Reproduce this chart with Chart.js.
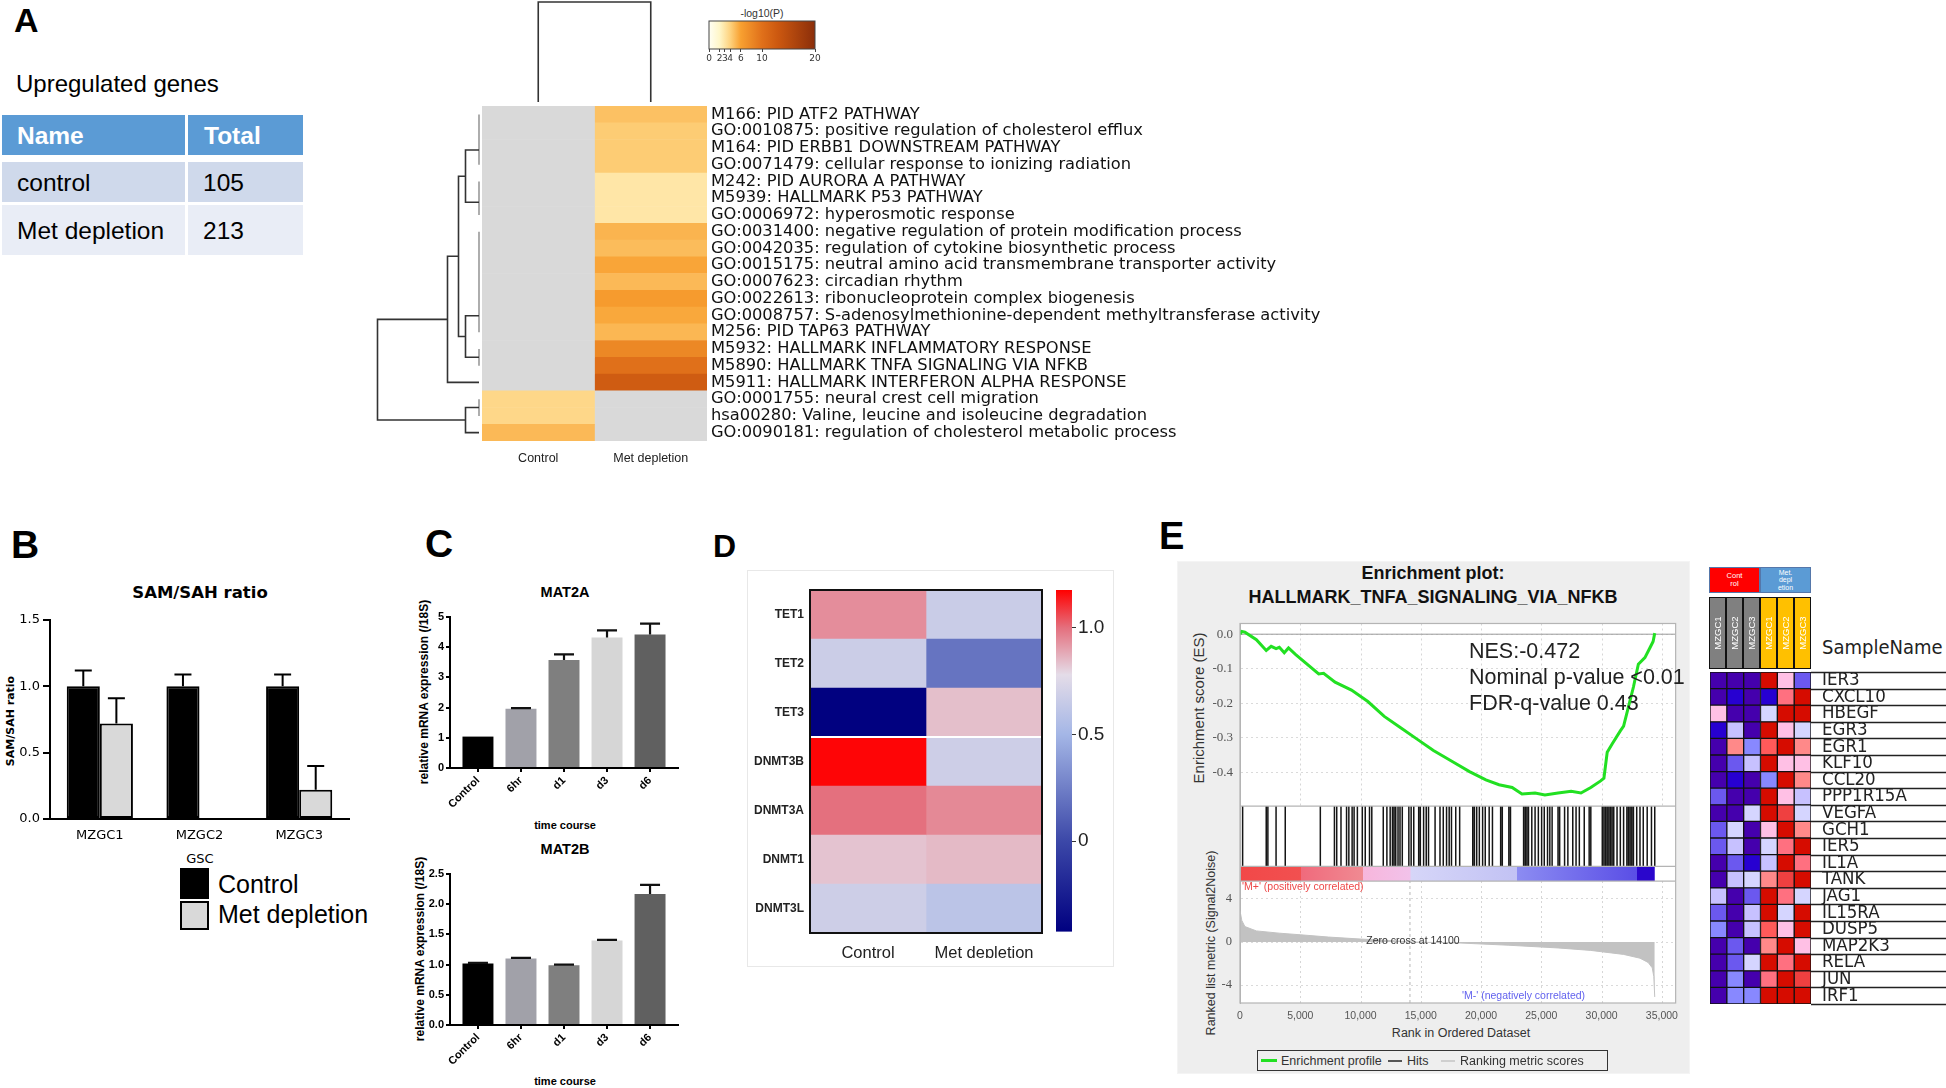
<!DOCTYPE html>
<html>
<head>
<meta charset="utf-8">
<title>Methionine depletion figure</title>
<script src="https://cdn.jsdelivr.net/npm/chart.js@4.4.1/dist/chart.umd.min.js"></script>
<style>
  html, body { margin: 0; padding: 0; }
  body { width: 1946px; height: 1088px; position: relative; overflow: hidden; background: #fff;
         font-family: "Liberation Sans", Arial, sans-serif; color: #000; }
  canvas { position: absolute; }
  .t { position: absolute; white-space: nowrap; line-height: 1; }
  .box { position: absolute; box-sizing: border-box; }
</style>
</head>
<body>
<script>
/* ====== DATA ====== */

// A: upregulated genes table
const tableCols = ['Name', 'Total']
const tableNames = ['control', 'Met depletion']
const tableTotals = [105, 213]

// A: enrichment heatmap, -log10(P) (null = not enriched)
const enrichTerms = [
  'M166: PID ATF2 PATHWAY',
  'GO:0010875: positive regulation of cholesterol efflux',
  'M164: PID ERBB1 DOWNSTREAM PATHWAY',
  'GO:0071479: cellular response to ionizing radiation',
  'M242: PID AURORA A PATHWAY',
  'M5939: HALLMARK P53 PATHWAY',
  'GO:0006972: hyperosmotic response',
  'GO:0031400: negative regulation of protein modification process',
  'GO:0042035: regulation of cytokine biosynthetic process',
  'GO:0015175: neutral amino acid transmembrane transporter activity',
  'GO:0007623: circadian rhythm',
  'GO:0022613: ribonucleoprotein complex biogenesis',
  'GO:0008757: S-adenosylmethionine-dependent methyltransferase activity',
  'M256: PID TAP63 PATHWAY',
  'M5932: HALLMARK INFLAMMATORY RESPONSE',
  'M5890: HALLMARK TNFA SIGNALING VIA NFKB',
  'M5911: HALLMARK INTERFERON ALPHA RESPONSE',
  'GO:0001755: neural crest cell migration',
  'hsa00280: Valine, leucine and isoleucine degradation',
  'GO:0090181: regulation of cholesterol metabolic process'
]
const enrichGroups = ['Control', 'Met depletion']
const ctrlLogP = [null, null, null, null, null, null, null, null, null, null, null, null, null, null, null, null, null, 3.7, 3.7, 5.0]
const metLogP = [4.7, 4.25, 4.25, 4.25, 2.9, 2.9, 2.9, 5.2, 4.9, 5.8, 5.0, 6.4, 5.7, 5.1, 8.0, 10.0, 12.5, null, null, null]
const logPTicks = [0, 2, 3, 4, 6, 10, 20]

// A: row dendrogram. tied rows join at height 0, links are [rowA, heightA, rowB, heightB, height]
const rowTies = [[0, 3], [4, 6], [7, 13], [14, 15], [17, 18]]
const rowLinks = [
  [2.125, 0, 5.25, 0, 1.35],
  [12.02, 0, 14.5, 0, 1.35],
  [3.69, 1.35, 13.26, 1.35, 2.05],
  [8.47, 2.05, 16, 0, 3.15],
  [17.5, 0, 19, 0, 1.35],
  [12.24, 3.15, 18.25, 1.35, 10.15]
]
const colLinks = [[0, 0, 1, 0, 10]]

// B: SAM/SAH ratio
const samCells = ['MZGC1', 'MZGC2', 'MZGC3']
const samCtrl = [1.0, 1.0, 1.0]
const samCtrlErr = [0.12, 0.09, 0.09]
const samMet = [0.72, null, 0.22]
const samMetErr = [0.19, 0, 0.18]
const samSeries = ['Control', 'Met depletion']

// C: qPCR time course
const timePoints = ['Control', '6hr', 'd1', 'd3', 'd6']
const mat2a = [1.04, 1.96, 3.58, 4.32, 4.42]
const mat2aErr = [0, 0.02, 0.18, 0.24, 0.36]
const mat2b = [1.02, 1.10, 0.99, 1.40, 2.17]
const mat2bErr = [0.01, 0.01, 0.01, 0.01, 0.15]

// D: methylation enzymes heatmap
const methGenes = ['TET1', 'TET2', 'TET3', 'DNMT3B', 'DNMT3A', 'DNMT1', 'DNMT3L']
const methGroups = ['Control', 'Met depletion']
const methCtrl = [0.94, 0.67, -0.42, 1.17, 1.0, 0.83, 0.68]
const methMet = [0.66, 0.2, 0.84, 0.68, 0.95, 0.85, 0.6]
const methTicks = [0, 0.5, 1]

// E: GSEA running enrichment score
const esRank = [0, 136, 408, 1360, 2176, 2584, 2992, 3264, 3672, 4025, 4624, 6528, 6936, 7888, 9248, 10608, 11968, 13328, 14688, 16048, 17680, 19040, 20400, 21488, 22576, 23392, 24480, 25296, 26384, 27472, 28288, 29104, 29920, 30192, 30464, 30872, 31552, 31824, 32232, 32640, 33048, 33592, 34000, 34272, 34408]
const esScore = [0, 0.008, 0.006, -0.016, -0.047, -0.035, -0.042, -0.038, -0.054, -0.040, -0.059, -0.115, -0.113, -0.139, -0.162, -0.195, -0.238, -0.271, -0.304, -0.337, -0.370, -0.398, -0.422, -0.436, -0.444, -0.463, -0.460, -0.466, -0.460, -0.455, -0.460, -0.444, -0.425, -0.417, -0.342, -0.318, -0.280, -0.266, -0.210, -0.153, -0.087, -0.068, -0.040, -0.021, 0.003]
const hitRanks = [218, 2176, 2312, 2992, 3754, 6664, 7834, 8024, 8378, 8840, 9030, 9302, 9466, 9738, 10146, 10390, 10744, 10934, 11886, 12186, 12458, 12648, 12784, 12920, 13110, 13274, 13464, 14008, 14198, 14416, 14824, 14960, 15232, 15450, 15640, 16184, 16592, 16864, 17136, 17354, 17544, 17898, 18224, 19312, 19448, 19638, 19856, 20128, 20346, 20672, 20944, 21624, 21760, 22304, 22440, 23528, 23664, 23800, 23936, 24208, 24480, 24752, 25024, 25242, 25514, 25704, 25894, 26384, 26520, 26928, 27200, 27608, 27880, 28152, 28560, 28968, 29104, 30056, 30192, 30328, 30464, 30600, 30736, 30872, 31008, 31280, 31552, 31824, 32096, 32232, 32368, 32504, 32640, 32912, 33184, 33456, 33782, 34136, 34408]
const metricRank = [0, 150, 408, 1360, 3264, 5032, 7344, 10064, 12784, 14100, 18224, 22304, 26384, 29104, 31824, 33184, 33864, 34200, 34330, 34408]
const metricValue = [2.9, 2.0, 1.43, 1.03, 0.82, 0.67, 0.46, 0.27, 0.12, 0, -0.09, -0.3, -0.55, -0.78, -1.15, -1.5, -1.9, -2.4, -3.2, -5.1]
const zeroCross = 14100
const rankTicks = [0, 5000, 10000, 15000, 20000, 25000, 30000, 35000]
const esTicks = [0, -0.1, -0.2, -0.3, -0.4]
const metricTicks = [4, 2, 0, -2, -4]
const gseaStats = ['NES:-0.472', 'Nominal p-value <0.01', 'FDR-q-value 0.43']

// E: leading edge heatmap (GSEA colour level 0..11 per sample)
const tnfGenes = ['IER3', 'CXCL10', 'HBEGF', 'EGR3', 'EGR1', 'KLF10', 'CCL20', 'PPP1R15A', 'VEGFA', 'GCH1', 'IER5', 'IL1A', 'TANK', 'JAG1', 'IL15RA', 'DUSP5', 'MAP2K3', 'RELA', 'JUN', 'IRF1']
const tnfSamples = ['MZGC1', 'MZGC2', 'MZGC3', 'MZGC1', 'MZGC2', 'MZGC3']
const ctrl1Lv = [0, 0, 6, 1, 0, 0, 0, 2, 0, 2, 2, 0, 0, 4, 2, 3, 0, 0, 0, 0]
const ctrl2Lv = [0, 1, 0, 4, 7, 2, 1, 0, 0, 5, 4, 2, 4, 0, 0, 0, 2, 2, 3, 3]
const ctrl3Lv = [0, 0, 0, 0, 3, 4, 0, 0, 5, 0, 0, 1, 5, 2, 4, 4, 0, 5, 0, 3]
const met1Lv = [11, 1, 5, 11, 9, 11, 3, 11, 11, 6, 5, 4, 7, 11, 11, 9, 7, 11, 8, 11]
const met2Lv = [6, 8, 11, 6, 11, 6, 11, 6, 10, 11, 8, 11, 10, 8, 5, 6, 11, 8, 11, 11]
const met3Lv = [2, 11, 11, 5, 7, 6, 7, 4, 5, 7, 11, 8, 11, 5, 11, 11, 6, 11, 10, 11]

/* ====== STYLES ====== */
const logPStops = [[0, '#fffff4'], [2, '#fff6c8'], [4, '#fed27e'], [6, '#f8a030'], [10, '#e0701a'], [13, '#cc5810'], [20, '#8b2e0a']]
const methStops = [[-0.425, '#000080'], [0, '#3c48a8'], [0.5, '#a4b6e6'], [0.78, '#e4dce8'], [1.0, '#e4707e'], [1.178, '#ff0000']]
const gseaPalette = ['#4500ad', '#2700d1', '#6b58ef', '#8888ff', '#c7c1ff', '#d5d5ff', '#ffc0e5', '#ff8989', '#ff7080', '#ff5a5a', '#ef4040', '#d60c00']
const stripStops = [[0, '#f24848'], [5030, '#f25050'], [5040, '#f06a7c'], [10190, '#f08a92'], [10200, '#f7b6dc'], [14140, '#f2c2ea'], [14150, '#d6d6f8'], [22980, '#c2c2f4'], [22990, '#8c8cf2'], [32900, '#5a4ee6'], [32910, '#2a06cc'], [34408, '#2a06cc']]
const timeColors = ['#000000', '#a1a1a9', '#7f7f7f', '#d6d6d6', '#606060']
const GREY = '#d9d9d9'
const SANS = '"Liberation Sans", Arial, sans-serif'
const DJV = '"DejaVu Sans", sans-serif'
const NARROW = '"Liberation Sans Narrow", "DejaVu Sans Condensed", "Arial Narrow", sans-serif'

Chart.defaults.font.family = SANS
Chart.defaults.color = '#000'
Chart.defaults.animation = false
Chart.defaults.responsive = false
Chart.defaults.events = []
Chart.defaults.plugins.legend.display = false
Chart.defaults.plugins.tooltip.enabled = false

/* ====== HELPERS ====== */
const hex = c => [1, 3, 5].map(i => parseInt(c.slice(i, i + 2), 16))
function mix(stops, v) {
  if (v == null) return GREY
  if (v <= stops[0][0]) return stops[0][1]
  for (let i = 1; i < stops.length; i++) {
    if (v <= stops[i][0]) {
      const [v0, c0] = stops[i - 1], [v1, c1] = stops[i]
      const t = (v - v0) / (v1 - v0), a = hex(c0), b = hex(c1)
      return 'rgb(' + a.map((x, k) => Math.round(x + (b[k] - x) * t)).join(',') + ')'
    }
  }
  return stops[stops.length - 1][1]
}

function canvasAt(left, top, w, h) {
  const c = document.createElement('canvas')
  c.width = w; c.height = h
  Object.assign(c.style, { left: left + 'px', top: top + 'px', width: w + 'px', height: h + 'px' })
  document.body.appendChild(c)
  return c
}

function box(left, top, w, h, css) {
  const d = document.createElement('div')
  d.className = 'box'
  Object.assign(d.style, { left: left + 'px', top: top + 'px', width: w + 'px', height: h + 'px' }, css || {})
  document.body.appendChild(d)
  return d
}

// text placed by its vertical centre; align = left | center | right
function label(str, x, y, size, o = {}) {
  const d = document.createElement('div')
  d.className = 't'
  d.innerHTML = str
  const s = d.style
  s.left = x + 'px'; s.top = y + 'px'; s.fontSize = size + 'px'
  if (o.bold) s.fontWeight = 'bold'
  if (o.color) s.color = o.color
  if (o.font) s.fontFamily = o.font
  if (o.lh) s.lineHeight = o.lh
  if (o.ta) s.textAlign = o.ta
  const ax = o.align === 'center' ? '-50%' : o.align === 'right' ? '-100%' : '0'
  s.transform = 'translate(' + ax + ',-50%)' + (o.rot ? ' rotate(' + o.rot + 'deg)' : '')
  document.body.appendChild(d)
  return d
}

const fixW = w => s => { s.width = w }
const fixH = h => s => { s.height = h }
const ticksAt = vals => s => { s.ticks = vals.map(v => ({ value: v })) }

/* ====== PLUGINS ====== */
const errorBars = {
  id: 'errorBars',
  afterDatasetsDraw(chart, args, o) {
    const ctx = chart.ctx
    chart.data.datasets.forEach((ds, i) => {
      if (!ds.errUp) return
      const meta = chart.getDatasetMeta(i), ys = chart.scales[meta.yAxisID]
      ctx.save(); ctx.strokeStyle = o.color; ctx.lineWidth = o.width
      meta.data.forEach((bar, j) => {
        const d = ds.data[j], v = d && typeof d === 'object' ? d.y : d, e = ds.errUp[j]
        if (v == null || !e) return
        const y0 = ys.getPixelForValue(v), y1 = ys.getPixelForValue(v + e)
        ctx.beginPath()
        ctx.moveTo(bar.x, y0); ctx.lineTo(bar.x, y1)
        ctx.moveTo(bar.x - o.cap / 2, y1); ctx.lineTo(bar.x + o.cap / 2, y1)
        ctx.stroke()
      })
      ctx.restore()
    })
  }
}

const gradientFill = {
  id: 'gradientFill',
  beforeDatasetsDraw(chart, args, o) {
    if (!o.stops) return
    const { ctx, chartArea: a } = chart, s = chart.scales[o.axis], horiz = s.isHorizontal()
    const p0 = horiz ? a.left : a.bottom, p1 = horiz ? a.right : a.top
    const g = horiz ? ctx.createLinearGradient(a.left, 0, a.right, 0) : ctx.createLinearGradient(0, a.bottom, 0, a.top)
    o.stops.forEach(([v, c]) => g.addColorStop(Math.min(1, Math.max(0, (s.getPixelForValue(v) - p0) / (p1 - p0))), c))
    ctx.save(); ctx.fillStyle = g; ctx.fillRect(a.left, a.top, a.width, a.height); ctx.restore()
  }
}

const frame = {
  id: 'frame',
  afterDraw(chart, args, o) {
    if (!o.color) return
    const { ctx, chartArea: a } = chart
    ctx.save(); ctx.strokeStyle = o.color; ctx.lineWidth = o.width
    ctx.strokeRect(a.left, a.top, a.width, a.height); ctx.restore()
  }
}

const rowGap = {
  id: 'rowGap',
  afterDatasetsDraw(chart, args, o) {
    if (o.after == null) return
    const { ctx, chartArea: a } = chart, ys = chart.scales.y
    const y = (ys.getPixelForValue(o.after) + ys.getPixelForValue(o.after + 1)) / 2
    ctx.save(); ctx.strokeStyle = o.color; ctx.lineWidth = o.width
    ctx.beginPath(); ctx.moveTo(a.left, y); ctx.lineTo(a.right, y); ctx.stroke(); ctx.restore()
  }
}

const rowRules = {
  id: 'rowRules',
  afterDraw(chart, args, o) {
    if (!o.color) return
    const { ctx, chartArea: a } = chart, ys = chart.scales.y
    const h = Math.abs(ys.getPixelForValue(1) - ys.getPixelForValue(0)), y0 = ys.getPixelForValue(0) - h / 2
    ctx.save(); ctx.strokeStyle = o.color; ctx.lineWidth = 1.3
    for (let i = 0; i <= ys.ticks.length; i++) {
      const y = Math.round(y0 + i * h) + 0.5
      ctx.beginPath(); ctx.moveTo(a.right, y); ctx.lineTo(chart.width, y); ctx.stroke()
    }
    ctx.restore()
  }
}

const gseaDecor = {
  id: 'gseaDecor',
  beforeDraw(chart, args, o) {
    const { ctx, chartArea: a, scales } = chart
    const x = scales.x, es = scales.yES, st = scales.yStrip, met = scales.yMet
    ctx.save()
    ctx.fillStyle = '#fff'; ctx.fillRect(a.left, a.top, a.width, a.height)
    ctx.strokeStyle = '#d6d6d6'; ctx.lineWidth = 1; ctx.setLineDash([2, 3])
    x.ticks.forEach(t => {
      const px = Math.round(x.getPixelForValue(t.value)) + 0.5
      if (t.value === 0) return
      ;[es, met].forEach(s => { ctx.beginPath(); ctx.moveTo(px, s.top); ctx.lineTo(px, s.bottom); ctx.stroke() })
    })
    ctx.setLineDash([])
    const st0 = o.stops[0][0], st1 = o.stops[o.stops.length - 1][0]
    const x0 = x.getPixelForValue(st0), x1 = x.getPixelForValue(st1)
    const g = ctx.createLinearGradient(x0, 0, x1, 0)
    o.stops.forEach(([r, c]) => g.addColorStop((x.getPixelForValue(r) - x0) / (x1 - x0), c))
    ctx.fillStyle = g; ctx.fillRect(x0, st.top, x1 - x0, st.bottom - st.top)
    ctx.restore()
  },
  afterDraw(chart) {
    const { ctx, chartArea: a, scales } = chart
    ctx.save(); ctx.strokeStyle = '#b4b4b4'; ctx.lineWidth = 1.2
    ;[scales.yES.bottom, scales.yStrip.top, scales.yStrip.bottom].forEach(y => {
      ctx.beginPath(); ctx.moveTo(a.left, y); ctx.lineTo(a.right, y); ctx.stroke()
    })
    ctx.strokeRect(a.left, a.top, a.width, a.height)
    ctx.restore()
  }
}

/* ====== PANEL A ====== */
label('A', 14, 20, 34, { bold: true })
label('Upregulated genes', 16, 84, 24)

box(2, 115, 183, 40, { background: '#5b9bd5' })
box(188, 115, 115, 40, { background: '#5b9bd5' })
label(tableCols[0], 17, 136, 24.5, { bold: true, color: '#fff' })
label(tableCols[1], 204, 136, 24.5, { bold: true, color: '#fff' })
const tableRowsGeo = [[162, 40, '#cfd9eb'], [205, 50, '#e9edf6']]
tableNames.forEach((n, i) => {
  const [top, h, bg] = tableRowsGeo[i]
  box(2, top, 183, h, { background: bg })
  box(188, top, 115, h, { background: bg })
  label(n, 17, top + h / 2 + 1, 24.5)
  label(String(tableTotals[i]), 203, top + h / 2 + 1, 24.5)
})

// top column dendrogram
new Chart(canvasAt(482, 0, 225, 104), {
  type: 'scatter',
  data: { datasets: [{
    data: colLinks.flatMap(([a, ha, b, hb, h]) => [{ x: a, y: ha }, { x: a, y: h }, { x: b, y: h }, { x: b, y: hb }, { x: b, y: null }]),
    showLine: true, borderColor: '#333', borderWidth: 1.6, pointRadius: 0, clip: false
  }] },
  options: {
    layout: { padding: { top: 2, bottom: 2, left: 0, right: 0 } },
    scales: { x: { display: false, min: -0.5, max: 1.5 }, y: { display: false, min: 0, max: 10 } }
  }
})

// left row dendrogram
new Chart(canvasAt(373, 106, 109, 335), {
  type: 'scatter',
  data: { datasets: [
    { data: rowLinks.flatMap(([a, ha, b, hb, h]) => [{ x: ha, y: a }, { x: h, y: a }, { x: h, y: b }, { x: hb, y: b }, { x: h, y: null }]),
      showLine: true, borderColor: '#333', borderWidth: 1.6, pointRadius: 0, clip: false },
    { data: rowTies.flatMap(([a, b]) => [{ x: 0, y: a }, { x: 0, y: b }, { x: 0, y: null }]),
      showLine: true, borderColor: '#9a9a9a', borderWidth: 1.6, pointRadius: 0, clip: false }
  ] },
  options: {
    layout: { padding: { left: 2, right: 3, top: 0, bottom: 0 } },
    scales: { x: { display: false, min: 0, max: 10.4, reverse: true }, y: { display: false, min: -0.5, max: 19.5, reverse: true } }
  }
})

// enrichment heatmap
new Chart(canvasAt(482, 86, 862, 389), {
  type: 'bar',
  data: { labels: enrichTerms, datasets: [
    { data: enrichTerms.map(() => 1), backgroundColor: ctrlLogP.map(v => mix(logPStops, v)) },
    { data: enrichTerms.map(() => 1), backgroundColor: metLogP.map(v => mix(logPStops, v)) }
  ] },
  options: {
    indexAxis: 'y',
    layout: { padding: { top: 20, left: 0, right: 0, bottom: 0 } },
    datasets: { bar: { barPercentage: 1, categoryPercentage: 1, borderWidth: 0 } },
    scales: {
      x: { stacked: true, min: 0, max: 2, afterBuildTicks: ticksAt([0.5, 1.5]),
           ticks: { callback: (v, i) => enrichGroups[i], padding: 10, font: { size: 12.5 }, color: '#222', maxRotation: 0 },
           grid: { display: false, drawTicks: false }, border: { display: false }, afterFit: fixH(34) },
      y: { stacked: true, position: 'right', grid: { display: false, drawTicks: false }, border: { display: false },
           ticks: { autoSkip: false, padding: 4, font: { family: DJV, size: 16.3, lineHeight: 1 }, color: '#111' }, afterFit: fixW(637) }
    }
  }
})

// -log10(P) colour bar
label('-log10(P)', 762, 13, 10.5, { align: 'center', color: '#333' })
new Chart(canvasAt(700, 16, 125, 54), {
  type: 'scatter', data: { datasets: [] },
  options: {
    layout: { padding: { left: 9, top: 5, right: 10, bottom: 2 } },
    plugins: { gradientFill: { axis: 'x', stops: logPStops }, frame: { color: '#444', width: 1 } },
    scales: {
      y: { display: false, min: 0, max: 1 },
      x: { min: 0, max: 20, afterBuildTicks: ticksAt(logPTicks),
           ticks: { autoSkip: false, maxRotation: 0, padding: 1, font: { family: DJV, size: 9 }, color: '#333' },
           grid: { drawOnChartArea: false, drawTicks: true, tickLength: 3, color: '#444' }, border: { display: false }, afterFit: fixH(19) }
    }
  },
  plugins: [gradientFill, frame]
})

/* ====== PANEL B ====== */
label('B', 11, 544, 39, { bold: true })
label('SAM/SAH ratio', 200, 593, 16.5, { bold: true, font: DJV, align: 'center' })
label('SAM/SAH ratio', 10, 721, 11, { bold: true, font: DJV, align: 'center', rot: -90 })
label('GSC', 200, 858, 13, { font: DJV, align: 'center' })

new Chart(canvasAt(0, 600, 365, 260), {
  type: 'bar',
  data: { labels: samCells, datasets: [
    { label: samSeries[0], data: samCtrl, errUp: samCtrlErr, backgroundColor: '#000', borderColor: '#000', borderWidth: 2 },
    { label: samSeries[1], data: samMet, errUp: samMetErr, backgroundColor: GREY, borderColor: '#000', borderWidth: 2 }
  ] },
  options: {
    layout: { padding: { left: 0, top: 20, right: 16, bottom: 11 } },
    datasets: { bar: { categoryPercentage: 0.664, barPercentage: 1, borderSkipped: false } },
    plugins: { errorBars: { cap: 17, width: 2, color: '#000' } },
    scales: {
      x: { grid: { display: false, drawTicks: false }, border: { color: '#000', width: 2 },
           ticks: { padding: 9, font: { family: DJV, size: 13 }, color: '#000' }, afterFit: fixH(30) },
      y: { min: 0, max: 1.5, ticks: { stepSize: 0.5, padding: 3, font: { family: DJV, size: 13 }, color: '#000', callback: v => v.toFixed(1) },
           grid: { drawOnChartArea: false, drawTicks: true, tickLength: 7, color: '#000', lineWidth: 2 },
           border: { color: '#000', width: 2 }, afterFit: fixW(50) }
    }
  },
  plugins: [errorBars]
})

// legend
box(180, 868, 29, 31, { background: '#000', border: '2px solid #000' })
box(180, 901, 29, 29, { background: GREY, border: '2px solid #000' })
label(samSeries[0], 218, 884, 25)
label(samSeries[1], 218, 914, 25)

/* ====== PANEL C ====== */
label('C', 425, 543, 39, { bold: true })

function matChart(name, top, canvasH, padTop, padBottom, xh, vals, errs, ymax, step, dp) {
  return new Chart(canvasAt(405, top, 290, canvasH), {
    type: 'bar',
    data: { datasets: [{ label: name, data: vals.map((v, i) => ({ x: i, y: v })), errUp: errs, backgroundColor: timeColors, borderWidth: 0 }] },
    options: {
      layout: { padding: { left: 5, top: padTop, right: 17, bottom: padBottom } },
      datasets: { bar: { barPercentage: 0.72, categoryPercentage: 1 } },
      plugins: { errorBars: { cap: 20, width: 2.2, color: '#111' } },
      scales: {
        x: { type: 'linear', offset: false, min: -0.65, max: 4.65, afterBuildTicks: ticksAt(timePoints.map((_, i) => i)),
             ticks: { callback: (v, i) => timePoints[i], autoSkip: false, minRotation: 45, maxRotation: 45, padding: 2, font: { weight: 'bold', size: 11 }, color: '#000' },
             grid: { display: true, offset: false, drawOnChartArea: false, drawTicks: true, tickLength: 4, color: '#000', lineWidth: 2 },
             border: { color: '#000', width: 2 }, afterFit: fixH(xh) },
        y: { min: 0, max: ymax, ticks: { stepSize: step, padding: 2, font: { weight: 'bold', size: 11 }, color: '#000', callback: v => v.toFixed(dp) },
             grid: { drawOnChartArea: false, drawTicks: true, tickLength: 4, color: '#000', lineWidth: 2 },
             border: { color: '#000', width: 2 }, afterFit: fixW(40) }
      }
    },
    plugins: [errorBars]
  })
}

label('MAT2A', 565, 592, 14.5, { bold: true, align: 'center' })
label('relative mRNA expression (/18S)', 424, 692, 12, { bold: true, align: 'center', rot: -90 })
label('time course', 565, 825, 11, { bold: true, align: 'center' })
matChart('MAT2A', 600, 230, 17, 12, 50, mat2a, mat2aErr, 5, 1, 0)

label('MAT2B', 565, 849, 14.5, { bold: true, align: 'center' })
label('relative mRNA expression (/18S)', 420, 949, 12, { bold: true, align: 'center', rot: -90 })
label('time course', 565, 1081, 11, { bold: true, align: 'center' })
matChart('MAT2B', 850, 238, 24, 8, 55, mat2b, mat2bErr, 2.5, 0.5, 1)

/* ====== PANEL D ====== */
label('D', 713, 546, 32, { bold: true })
box(747, 570, 367, 397, { border: '1px solid #e8e8e8' })

new Chart(canvasAt(745, 570, 305, 410), {
  type: 'bar',
  data: { labels: methGenes, datasets: [
    { label: methGroups[0], data: methGenes.map(() => 1), backgroundColor: methCtrl.map(v => mix(methStops, v)) },
    { label: methGroups[1], data: methGenes.map(() => 1), backgroundColor: methMet.map(v => mix(methStops, v)) }
  ] },
  options: {
    indexAxis: 'y',
    layout: { padding: { left: 5, top: 20, right: 8, bottom: 22 } },
    datasets: { bar: { barPercentage: 1, categoryPercentage: 1, borderWidth: 0 } },
    plugins: { frame: { color: '#111', width: 2 }, rowGap: { after: 2, color: '#fff', width: 2 } },
    scales: {
      x: { stacked: true, min: 0, max: 2, afterBuildTicks: ticksAt([0.5, 1.5]),
           ticks: { callback: (v, i) => methGroups[i], padding: 11, maxRotation: 0, font: { size: 16.5 }, color: '#222' },
           grid: { display: false, drawTicks: false }, border: { display: false }, afterFit: fixH(25) },
      y: { stacked: true, grid: { display: false, drawTicks: false }, border: { display: false },
           ticks: { autoSkip: false, padding: 6, font: { weight: 'bold', size: 12 }, color: '#222' }, afterFit: fixW(60) }
    }
  },
  plugins: [frame, rowGap]
})

new Chart(canvasAt(1050, 570, 65, 375), {
  type: 'scatter', data: { datasets: [] },
  options: {
    layout: { padding: { left: 6, top: 20, right: 0, bottom: 12 } },
    plugins: { gradientFill: { axis: 'y', stops: methStops } },
    scales: {
      x: { display: false, min: 0, max: 1 },
      y: { position: 'right', min: -0.425, max: 1.178, afterBuildTicks: ticksAt(methTicks),
           ticks: { callback: v => v === 0 ? '0' : v.toFixed(1), padding: 2, font: { size: 19 }, color: '#222' },
           grid: { drawOnChartArea: false, drawTicks: true, tickLength: 4, color: '#333' }, border: { display: false }, afterFit: fixW(43) }
    }
  },
  plugins: [gradientFill]
})

/* ====== PANEL E : GSEA plot ====== */
label('E', 1159, 536, 38, { bold: true })
box(1177, 561, 513, 513, { background: '#eeeeee', border: '1px solid #f4f4f4' })
label('Enrichment plot:', 1433, 573, 18, { bold: true, align: 'center', color: '#111' })
label('HALLMARK_TNFA_SIGNALING_VIA_NFKB', 1433, 597, 18, { bold: true, align: 'center', color: '#111' })
label('Enrichment score (ES)', 1198, 708, 15, { align: 'center', rot: -90, color: '#333' })
label('Ranked list metric (Signal2Noise)', 1211, 943, 12.5, { align: 'center', rot: -90, color: '#333' })
label('Rank in Ordered Dataset', 1461, 1033, 12.5, { align: 'center', color: '#333' })

const gseaMax = 36142
new Chart(canvasAt(1180, 608, 505, 440), {
  type: 'line',
  data: { datasets: [
    { data: esRank.map((r, i) => ({ x: r, y: esScore[i] })), yAxisID: 'yES', borderColor: '#22e022', borderWidth: 3, pointRadius: 0 },
    { data: [{ x: 0, y: 0 }, { x: gseaMax, y: 0 }], yAxisID: 'yES', borderColor: '#9a9a9a', borderWidth: 1, pointRadius: 0 },
    { data: hitRanks.flatMap(h => [{ x: h, y: 0 }, { x: h, y: 1 }, { x: h, y: null }]), yAxisID: 'yHit', borderColor: '#151515', borderWidth: 1.5, pointRadius: 0, spanGaps: false },
    { data: [{ x: zeroCross, y: -5.66 }, { x: zeroCross, y: 5.66 }], yAxisID: 'yMet', borderColor: '#b8b8b8', borderDash: [3, 3], borderWidth: 1, pointRadius: 0 },
    { data: metricRank.map((r, i) => ({ x: r, y: metricValue[i] })), yAxisID: 'yMet', fill: 'origin', backgroundColor: '#c2c2c2', borderColor: '#c2c2c2', borderWidth: 1, pointRadius: 0 }
  ] },
  options: {
    layout: { padding: { left: 0, top: 7, right: 2, bottom: 0 } },
    plugins: { gseaDecor: { stops: stripStops } },
    scales: {
      x: { type: 'linear', min: 0, max: gseaMax, afterBuildTicks: ticksAt(rankTicks),
           ticks: { padding: 7, maxRotation: 0, font: { size: 10.5 }, color: '#555', callback: v => v.toLocaleString('en-US') },
           grid: { display: false, drawTicks: false }, border: { display: false }, afterFit: fixH(45) },
      yES: { type: 'linear', position: 'left', stack: 'gsea', stackWeight: 186.7, weight: 4, min: -0.498, max: 0.031,
             afterBuildTicks: ticksAt(esTicks),
             ticks: { padding: 7, font: { family: '"Liberation Serif", serif', size: 13 }, color: '#555', callback: v => v.toFixed(1) },
             grid: { color: '#dadada', drawTicks: false }, border: { dash: [2, 3], color: '#b4b4b4' }, afterFit: fixW(60) },
      yHit: { type: 'linear', position: 'left', stack: 'gsea', stackWeight: 61.6, weight: 3, min: 0, max: 1,
              ticks: { display: false }, grid: { display: false, drawTicks: false }, border: { color: '#b4b4b4' }, afterFit: fixW(60) },
      yStrip: { type: 'linear', position: 'left', stack: 'gsea', stackWeight: 15, weight: 2, min: 0, max: 1,
                ticks: { display: false }, grid: { display: false, drawTicks: false }, border: { color: '#b4b4b4' }, afterFit: fixW(60) },
      yMet: { type: 'linear', position: 'left', stack: 'gsea', stackWeight: 124.7, weight: 1, min: -5.66, max: 5.66,
              afterBuildTicks: ticksAt(metricTicks),
              ticks: { padding: 8, font: { family: '"Liberation Serif", serif', size: 12.5 }, color: '#555' },
              grid: { color: '#dadada', drawTicks: false }, border: { dash: [2, 3], color: '#b4b4b4' }, afterFit: fixW(60) }
    }
  },
  plugins: [gseaDecor]
})

gseaStats.forEach((s, i) => label(s, 1469, 652 + i * 26, 21.5, { color: '#222' }))
label("'M+' (positively correlated)", 1242, 886, 10.5, { color: '#ee4848' })
label("'M-' (negatively correlated)", 1462, 995, 10.5, { color: '#6262ee' })
label('Zero cross at ' + zeroCross, 1413, 940, 10.5, { align: 'center', color: '#333' })

// legend
box(1257, 1050, 351, 21, { border: '1.5px solid #333' })
box(1261, 1059, 16, 3, { background: '#22e022' })
label('Enrichment profile', 1281, 1061, 12.5, { color: '#333' })
box(1388, 1060, 14, 2, { background: '#555' })
label('Hits', 1407, 1061, 12.5, { color: '#333' })
box(1441, 1060, 14, 2, { background: '#cfcfcf' })
label('Ranking metric scores', 1460, 1061, 12.5, { color: '#333' })

/* ====== PANEL E : leading edge heatmap ====== */
box(1709, 567, 51, 26, { background: '#ff0000', border: '1px solid #5577aa' })
box(1760, 567, 51, 26, { background: '#5b9bd5', border: '1px solid #5577aa' })
label('Cont<br>rol', 1734.5, 580, 7.5, { align: 'center', color: '#fff', lh: 1.1, ta: 'center' })
label('Met.<br>depl<br>etion', 1785.5, 580, 7, { align: 'center', color: '#fff', lh: 1.05, ta: 'center' })
tnfSamples.forEach((s, j) => {
  const left = 1709 + j * 17
  box(left, 597, 17, 72, { background: j < 3 ? '#808080' : '#ffc000', border: '1.5px solid #111' })
  label(s, left + 8.5, 633, 9.5, { align: 'center', rot: -90, color: '#fff' })
})
label('SampleName', 1822, 647, 20, { font: NARROW, color: '#222' })

const tnfColumns = [ctrl1Lv, ctrl2Lv, ctrl3Lv, met1Lv, met2Lv, met3Lv]
new Chart(canvasAt(1705, 645, 241, 385), {
  type: 'bar',
  data: { labels: tnfGenes, datasets: tnfColumns.map((col, j) => ({
    label: tnfSamples[j], data: tnfGenes.map(() => 1), backgroundColor: col.map(l => gseaPalette[l]),
    borderColor: '#111', borderWidth: 1, borderSkipped: false
  })) },
  options: {
    indexAxis: 'y',
    layout: { padding: { left: 5, top: 27, right: 0, bottom: 26 } },
    datasets: { bar: { barPercentage: 1, categoryPercentage: 1 } },
    plugins: { rowRules: { color: '#222' } },
    scales: {
      x: { stacked: true, display: false, min: 0, max: 6 },
      y: { stacked: true, position: 'right', grid: { display: false, drawTicks: false }, border: { display: false },
           ticks: { autoSkip: false, padding: 11, font: { family: NARROW, size: 18.5, lineHeight: 1 }, color: '#222' }, afterFit: fixW(135) }
    }
  },
  plugins: [rowRules]
})
</script>
</body>
</html>
